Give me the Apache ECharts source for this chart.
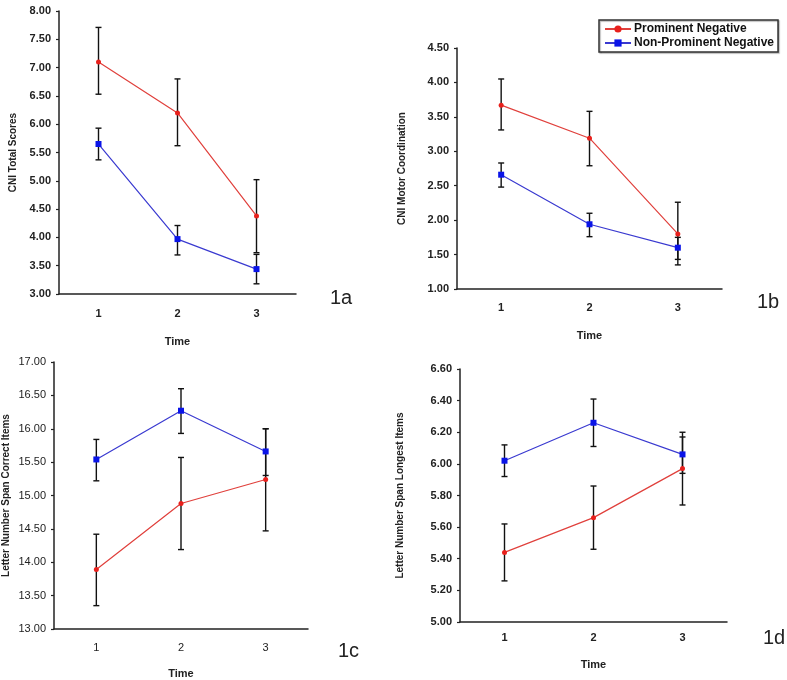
<!DOCTYPE html>
<html>
<head>
<meta charset="utf-8">
<script src="https://cdn.jsdelivr.net/npm/echarts@6/dist/echarts.min.js"></script>
<style>html,body{margin:0;padding:0;background:#fff}#c{width:787px;height:680px}</style>
</head>
<body>
<div id="c"></div>
<script>
// ---- data ----
var times = ['1', '2', '3'];
var seriesNames = ['Prominent Negative', 'Non-Prominent Negative'];

// 1a CNI Total Scores
var totalPN = [7.10, 6.20, 4.38];
var totalPNLow = [6.53, 5.62, 3.73];
var totalPNHigh = [7.71, 6.80, 5.02];
var totalNPN = [5.65, 3.97, 3.44];
var totalNPNLow = [5.37, 3.69, 3.18];
var totalNPNHigh = [5.93, 4.21, 3.70];

// 1b CNI Motor Coordination
var motorPN = [3.67, 3.19, 1.80];
var motorPNLow = [3.31, 2.79, 1.43];
var motorPNHigh = [4.05, 3.58, 2.26];
var motorNPN = [2.66, 1.94, 1.60];
var motorNPNLow = [2.48, 1.76, 1.35];
var motorNPNHigh = [2.83, 2.10, 1.75];

// 1c Letter Number Span Correct Items
var correctPN = [13.89, 14.88, 15.24];
var correctPNLow = [13.35, 14.19, 14.47];
var correctPNHigh = [14.42, 15.57, 16.00];
var correctNPN = [15.54, 16.27, 15.66];
var correctNPNLow = [15.22, 15.93, 15.30];
var correctNPNHigh = [15.84, 16.60, 16.00];

// 1d Letter Number Span Longest Items
var longestPN = [5.44, 5.66, 5.97];
var longestPNLow = [5.26, 5.46, 5.74];
var longestPNHigh = [5.62, 5.86, 6.17];
var longestNPN = [6.02, 6.26, 6.06];
var longestNPNLow = [5.92, 6.11, 5.94];
var longestNPNHigh = [6.12, 6.41, 6.20];

var yTitles = ['CNI Total Scores', 'CNI Motor Coordination', 'Letter Number Span Correct Items', 'Letter Number Span Longest Items'];
var yMins = [3, 1, 13, 5];
var yMaxs = [8, 4.5, 17, 6.6];
var yIntervals = [0.5, 0.5, 0.5, 0.2];
var panelLabels = ['1a', '1b', '1c', '1d'];

// ---- layout/style ----
var grids = [
  {left: 59, top: 11, width: 237, height: 283},
  {left: 457, top: 48, width: 265, height: 241},
  {left: 53, top: 362, width: 255, height: 270},
  {left: 460, top: 369, width: 267, height: 253}
];
var xNameGaps = [42, 41, 39, 37];
var xLabelMargins = [14, 13, 13, 10];
var yNameGaps = [41, 50, 43, 55];
var panelLabelPos = [[330, 288], [757, 292], [338, 641], [763, 628]];

var RED = '#e8201c', RED_LINE = '#e0403c';
var BLUE = '#0a14e8', BLUE_LINE = '#3a3ad0';
var FONT = 'Liberation Sans';

var pnData = [totalPN, motorPN, correctPN, longestPN];
var pnLow = [totalPNLow, motorPNLow, correctPNLow, longestPNLow];
var pnHigh = [totalPNHigh, motorPNHigh, correctPNHigh, longestPNHigh];
var npnData = [totalNPN, motorNPN, correctNPN, longestNPN];
var npnLow = [totalNPNLow, motorNPNLow, correctNPNLow, longestNPNLow];
var npnHigh = [totalNPNHigh, motorNPNHigh, correctNPNHigh, longestNPNHigh];

function errRender(params, api) {
  var x = api.value(0);
  var lo = api.coord([x, api.value(1)]);
  var hi = api.coord([x, api.value(2)]);
  var w = 3;
  var st = {stroke: '#111', lineWidth: 1.4};
  return {
    type: 'group',
    children: [
      {type: 'line', shape: {x1: lo[0], y1: lo[1], x2: hi[0], y2: hi[1]}, style: st},
      {type: 'line', shape: {x1: lo[0] - w, y1: lo[1], x2: lo[0] + w, y2: lo[1]}, style: st},
      {type: 'line', shape: {x1: hi[0] - w, y1: hi[1], x2: hi[0] + w, y2: hi[1]}, style: st}
    ]
  };
}
function errData(low, high) {
  return times.map(function (t, i) { return [i, low[i], high[i]]; });
}

var xAxes = [], yAxes = [], series = [], graphics = [];
for (var g = 0; g < 4; g++) {
  var thinLabels = (g === 2);
  xAxes.push({
    gridIndex: g, type: 'category', data: times, boundaryGap: true,
    name: 'Time', nameLocation: 'middle', nameGap: xNameGaps[g],
    nameTextStyle: {fontFamily: FONT, fontWeight: 'bold', fontSize: 11, color: '#222'},
    axisLine: {lineStyle: {color: '#222', width: 1.5}},
    axisTick: {inside: true, length: 4, lineStyle: {color: '#222', width: 1.2}},
    axisLabel: {fontFamily: FONT, fontWeight: thinLabels ? 'normal' : 'bold', fontSize: 11, color: '#222', margin: xLabelMargins[g]},
    splitLine: {show: false}
  });
  yAxes.push({
    gridIndex: g, type: 'value', min: yMins[g], max: yMaxs[g], interval: yIntervals[g],
    name: yTitles[g], nameLocation: 'middle', nameGap: yNameGaps[g], nameRotate: 90,
    nameTextStyle: {fontFamily: FONT, fontWeight: 'bold', fontSize: 10, color: '#222'},
    axisLine: {show: true, lineStyle: {color: '#222', width: 1.5}},
    axisTick: {show: true, length: 3, lineStyle: {color: '#222', width: 1.2}},
    axisLabel: {fontFamily: FONT, fontWeight: thinLabels ? 'normal' : 'bold', fontSize: 11, color: '#222', margin: 8,
      formatter: function (v) { return v.toFixed(2); }},
    splitLine: {show: false}
  });
  series.push({
    type: 'custom', xAxisIndex: g, yAxisIndex: g, z: 1, silent: true,
    renderItem: errRender, data: errData(pnLow[g], pnHigh[g])
  });
  series.push({
    type: 'custom', xAxisIndex: g, yAxisIndex: g, z: 1, silent: true,
    renderItem: errRender, data: errData(npnLow[g], npnHigh[g])
  });
  series.push({
    name: seriesNames[0], type: 'line', xAxisIndex: g, yAxisIndex: g, z: 3,
    data: pnData[g], symbol: 'circle', symbolSize: 5,
    lineStyle: {color: RED_LINE, width: 1.2}, itemStyle: {color: RED}
  });
  series.push({
    name: seriesNames[1], type: 'line', xAxisIndex: g, yAxisIndex: g, z: 3,
    data: npnData[g], symbol: 'rect', symbolSize: 6,
    lineStyle: {color: BLUE_LINE, width: 1.2}, itemStyle: {color: BLUE}
  });
  graphics.push({
    type: 'text', left: panelLabelPos[g][0], top: panelLabelPos[g][1],
    style: {text: panelLabels[g], font: '20px "Liberation Sans"', fill: '#222'}
  });
}

var chart = echarts.init(document.getElementById('c'), null, {renderer: 'canvas'});
chart.setOption({
  animation: false,
  backgroundColor: '#fff',
  grid: grids,
  xAxis: xAxes,
  yAxis: yAxes,
  legend: {
    data: seriesNames,
    orient: 'vertical', left: 599, top: 20,
    padding: [3, 4, 3, 5], itemGap: 2, itemWidth: 26, itemHeight: 9,
    borderColor: '#333', borderWidth: 1.5, backgroundColor: '#fff',
    shadowColor: 'rgba(0,0,0,0.3)', shadowOffsetX: 1, shadowOffsetY: 1, shadowBlur: 1,
    textStyle: {fontFamily: FONT, fontWeight: 'bold', fontSize: 12, color: '#111', padding: [0, 0, 0, -2]}
  },
  series: series,
  graphic: graphics
});
</script>
</body>
</html>
